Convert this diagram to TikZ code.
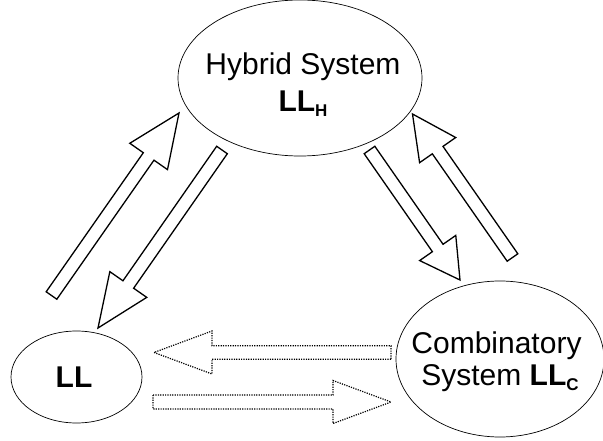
\documentclass[tikz,border=0pt]{standalone}
\usepackage{fontspec}
\setmainfont{Liberation Sans}
\usetikzlibrary{shapes.geometric,calc}

% Block arrow from a tail point to a tip point.
% #1 style, #2 tail, #3 tip, #4 head length, #5 head half-width, #6 shaft half-width
\newcommand\blockarrow[6]{%
  \coordinate (hb) at ($(#3)!#4!(#2)$);
  \draw[#1] ($(#2)!#6!90:(#3)$) -- ($(hb)!#6!90:(#3)$) -- ($(hb)!#5!90:(#3)$)
    -- (#3) -- ($(hb)!#5!-90:(#3)$) -- ($(hb)!#6!-90:(#3)$)
    -- ($(#2)!#6!-90:(#3)$) -- cycle;
}
% lowered bold subscript
\newcommand\llsub[1]{\raisebox{-5pt}{\fontsize{17}{20}\selectfont\bfseries #1}}

\begin{document}
\begin{tikzpicture}[x=1pt,y=-1pt,
  system/.style={ellipse, draw, line width=0.7pt, inner sep=0pt},
  label/.style={anchor=base, inner sep=0pt, font=\fontsize{30}{36}\selectfont},
  solidarrow/.style={draw, line width=1.3pt, line join=miter, fill=white},
  dottedarrow/.style={draw, line width=1.2pt, dash pattern=on 1.2pt off 1.2pt, fill=white}]
  \useasboundingbox (0,0) rectangle (603,441);
  \fill[white] (0,0) rectangle (603,441);

  % the three systems
  \node[system, minimum width=244pt, minimum height=156pt] (hy) at (300,78) {};
  \node[system, minimum width=131pt, minimum height=92pt] (ll) at (76.5,377) {};
  \node[system, minimum width=208pt, minimum height=156pt] (co) at (500,359) {};

  % their labels
  \node[label] (hyA) at (303,75) {Hybrid System};
  \node[label] (hyB) at (303,112) {\bfseries LL\llsub{H}};
  \node[label] (llA) at (74,387) {\bfseries LL};
  \node[label] (coA) at (496.5,353) {Combinatory};
  \node[label] (coB) at (500,385) {System \bfseries LL\llsub{C}};

  % arrow end points
  \coordinate (ll-hy-s) at (51.5,295.5);
  \coordinate (ll-hy-e) at (179,113);
  \coordinate (hy-ll-s) at (222,150);
  \coordinate (hy-ll-e) at (98,328);
  \coordinate (hy-co-s) at (369.5,150);
  \coordinate (hy-co-e) at (460,280);
  \coordinate (co-hy-s) at (512.5,257.5);
  \coordinate (co-hy-e) at (412.5,114);
  \coordinate (co-ll-s) at (391,352.5);
  \coordinate (co-ll-e) at (154,352.5);
  \coordinate (ll-co-s) at (153,402);
  \coordinate (ll-co-e) at (391,402);

  % transitions
  \blockarrow{solidarrow}{ll-hy-s}{ll-hy-e}{53pt}{23pt}{6.5pt}
  \blockarrow{solidarrow}{hy-ll-s}{hy-ll-e}{53pt}{22.5pt}{6.5pt}
  \blockarrow{solidarrow}{hy-co-s}{hy-co-e}{39pt}{22pt}{6.5pt}
  \blockarrow{solidarrow}{co-hy-s}{co-hy-e}{44pt}{22pt}{6.5pt}
  \blockarrow{dottedarrow}{co-ll-s}{co-ll-e}{58pt}{21.5pt}{6.75pt}
  \blockarrow{dottedarrow}{ll-co-s}{ll-co-e}{58pt}{21.5pt}{7pt}
\end{tikzpicture}
\end{document}
